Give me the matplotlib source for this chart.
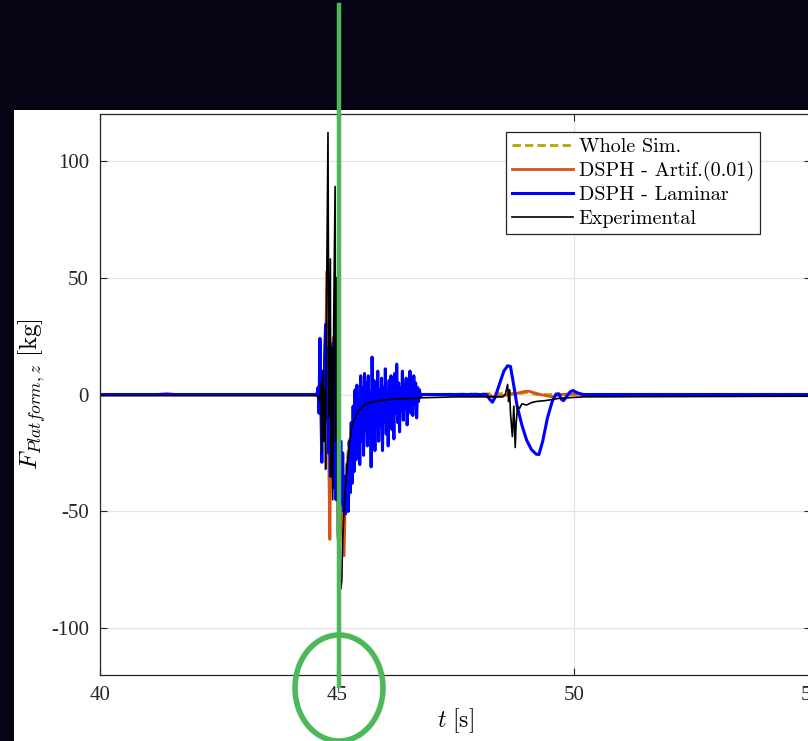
import matplotlib
matplotlib.use('Agg')
import matplotlib.pyplot as plt
from matplotlib.lines import Line2D
from matplotlib.patches import Ellipse, Rectangle

plt.rcParams['mathtext.fontset'] = 'cm'
plt.rcParams['axes.unicode_minus'] = False

# Whole simulation
t_whole = [40.0, 44.60, 44.65, 44.70, 44.75, 44.80, 44.83, 44.87, 44.90, 44.95, 45.00,
           45.05, 45.10, 45.15, 45.20, 45.25, 45.35, 45.45, 45.60, 45.80, 46.00, 46.15,
           46.25, 46.50, 46.60, 47.00, 48.90, 49.05, 49.20, 55.5]
f_whole = [0.0, 0.0, 3.0, -6.0, 12.0, 30.0, -15.0, -40.0, 10.0, -25.0, -35.0,
           -20.0, -50.0, -45.0, -30.0, -20.6, -12.0, -6.0, -3.0, -1.0, 0.0, 5.7,
           0.0, 2.1, 0.0, 0.0, 0.5, 1.0, 0.0, 0.0]

# DSPH - artificial viscosity 0.01
t_artif = [40.0, 41.20, 41.40, 41.60, 44.55, 44.60, 44.64, 44.68, 44.72, 44.76, 44.79,
           44.82, 44.85, 44.88, 44.92, 44.95, 44.98, 45.02, 45.06, 45.10, 45.15,
           45.18, 45.22, 45.28, 45.34, 45.40, 45.46, 45.52, 45.56, 45.62, 45.70,
           45.80, 45.90, 46.00, 46.10, 46.30, 46.50, 46.80, 48.20, 48.30, 48.50,
           48.80, 48.95, 49.05, 49.20, 49.40, 49.55, 49.70, 50.00, 50.30, 55.5]
f_artif = [0.0, 0.0, 0.4, 0.0, 0.0, 1.0, -5.0, 10.0, -15.0, 20.0, 52.8,
           -20.0, -62.0, 5.0, 24.4, -30.0, 10.0, -40.0, -20.0, -55.0, -69.0,
           -40.0, -30.0, -20.0, -32.0, -10.0, -22.0, -5.0, -19.0, -3.0, -8.0,
           1.0, -4.0, 2.0, -2.0, 1.0, -1.0, 0.0, 0.0, -1.0, -0.5,
           0.5, 1.3, 1.4, 0.5, -0.5, -1.0, 0.0, 0.3, 0.0, 0.0]

# DSPH - laminar
t_lam = [40.0, 44.58, 44.60, 44.62, 44.64, 44.66, 44.68, 44.70, 44.72, 44.74, 44.76,
         44.78, 44.80, 44.82, 44.84, 44.86, 44.88, 44.90, 44.92, 44.94, 44.96,
         44.98, 45.00, 45.02, 45.04, 45.06, 45.08, 45.10, 45.12, 45.14, 45.16,
         45.18, 45.20, 45.22, 45.24, 45.26, 45.28, 45.30, 45.32, 45.34, 45.36,
         45.38, 45.40, 45.42, 45.44, 45.46, 45.48, 45.50, 45.52, 45.54, 45.56,
         45.58, 45.60, 45.62, 45.64, 45.66, 45.68, 45.70, 45.72, 45.74, 45.76,
         45.78, 45.80, 45.82, 45.84, 45.86, 45.88, 45.90, 45.92, 45.94, 45.96,
         45.98, 46.00, 46.02, 46.04, 46.06, 46.08, 46.10, 46.12, 46.14, 46.16,
         46.18, 46.20, 46.22, 46.24, 46.26, 46.28, 46.30, 46.32, 46.34, 46.36,
         46.38, 46.40, 46.42, 46.44, 46.46, 46.48, 46.50, 46.52, 46.54, 46.56,
         46.58, 46.60, 46.62, 46.64, 46.66, 46.68, 46.70, 46.72, 46.74, 46.76,
         46.80, 48.15, 48.22, 48.28, 48.34, 48.42, 48.52, 48.60, 48.66, 48.72,
         48.80, 48.90, 49.00, 49.10, 49.20, 49.26, 49.34, 49.44, 49.54, 49.62,
         49.68, 49.74, 49.78, 49.84, 49.92, 49.98, 50.06, 50.18, 55.5]
f_lam = [0.0, 0.0, 3.0, -8.0, 24.0, -5.0, -29.0, 10.0, -15.0, 18.0, 30.0,
         -10.0, 20.0, -25.0, 5.0, -35.0, 8.0, -20.0, 22.0, -40.0, -5.0,
         -45.0, -15.0, -30.0, -8.0, -42.0, -20.0, -47.0, -25.0, -50.0, -35.0,
         -51.0, -48.0, -30.0, -50.0, -20.0, -42.0, -12.0, -38.0, -5.0, -33.0,
         2.0, -28.0, 4.0, -25.0, -3.0, -30.0, 8.0, -20.0, 3.0, -26.0,
         9.0, -15.0, 5.0, -22.0, 8.0, -18.0, 1.0, -31.0, 16.0, -12.0,
         6.0, -24.0, 4.0, -14.0, 10.0, -20.0, 2.0, -13.0, 7.0, -24.0,
         3.0, -12.0, 11.0, -17.0, 1.0, -22.0, 6.0, -8.0, 8.0, -15.0,
         2.0, -19.0, 9.0, -8.0, 13.0, -12.0, 5.0, -16.0, 3.0, -7.0,
         10.0, -11.0, 4.0, -6.0, 7.0, -13.0, 2.0, -5.0, 10.0, -8.0,
         3.0, -9.0, 8.0, -4.0, 5.0, -10.0, 3.0, -3.0, 2.0, -1.0,
         0.0, 0.0, -2.0, -3.3, -1.0, 4.0, 10.0, 12.3, 12.0, 5.0,
         -5.0, -13.0, -19.5, -23.5, -25.5, -25.7, -20.0, -10.0, -3.0, 0.2,
         0.3, -2.2, -2.6, -1.0, 1.2, 1.7, 0.8, 0.0, 0.0]

# Experimental
t_exp = [40.0, 44.55, 44.62, 44.64, 44.66, 44.68, 44.70, 44.72, 44.74, 44.76, 44.78,
         44.81, 44.83, 44.86, 44.87, 44.89, 44.91, 44.93, 44.96, 44.97, 44.99,
         45.01, 45.04, 45.08, 45.10, 45.12, 45.16, 45.22, 45.31, 45.45, 45.60,
         45.80, 46.20, 46.80, 47.50, 48.30, 48.50, 48.55, 48.60, 48.62, 48.64,
         48.66, 48.70, 48.73, 48.76, 48.78, 48.81, 48.85, 48.90, 49.00, 49.10,
         49.20, 49.40, 49.70, 50.20, 55.5]
f_exp = [-0.5, -0.5, -1.0, -3.0, 5.0, -25.0, 10.0, -20.0, 2.0, -32.0, 40.0,
         112.0, -10.0, 58.0, -35.0, 20.0, -45.0, 30.0, 89.0, -20.0, 50.0,
         -60.0, -70.0, -83.0, -80.0, -62.0, -45.0, -29.0, -13.6, -7.0, -4.0,
         -2.8, -2.0, -1.4, -1.0, -1.0, -1.0, 0.0, 4.3, -3.0, 2.0,
         -8.0, -18.0, -5.0, -22.7, -12.0, -5.0, -6.0, -4.0, -4.5, -3.5,
         -3.0, -2.6, -1.6, -1.0, -0.7]

x_ticks = [40, 45, 50, 55]
y_ticks = [-100, -50, 0, 50, 100]

fig = plt.figure(figsize=(8.08, 7.41), dpi=100, facecolor='#050314')
fig.add_artist(Rectangle((14 / 808, 0), 1, 1 - 110 / 741, transform=fig.transFigure,
                         facecolor='white', edgecolor='none', zorder=0))
ax = fig.add_axes([100 / 808, 66 / 741, 711 / 808, 561 / 741])
ax.set_facecolor('white')

ax.plot(t_whole, f_whole, color='#b3a600', lw=2.0, ls=(0, (3, 1.5)), label='Whole Sim.')
ax.plot(t_artif, f_artif, color='#d95319', lw=2.0, label='DSPH - Artif.(0.01)')
ax.plot(t_lam, f_lam, color='#0000ff', lw=2.2, label='DSPH - Laminar')
ax.plot(t_exp, f_exp, color='black', lw=1.2, label='Experimental')

ax.set_xlim(40, 55)
ax.set_ylim(-120, 120)
ax.set_xticks(x_ticks)
ax.set_yticks(y_ticks)
ax.grid(True, color='#e3e3e3', lw=0.9)
ax.set_axisbelow(True)
ax.tick_params(direction='in', length=5, width=0.8, top=True, right=True,
               colors='#262626', labelsize=15, pad=8)
for lab in ax.get_xticklabels() + ax.get_yticklabels():
    lab.set_fontfamily('Liberation Serif')
for sp in ax.spines.values():
    sp.set_color('#262626')
    sp.set_linewidth(0.9)

ax.set_xlabel(r'$t\ \mathrm{[s]}$', fontsize=17, labelpad=1)
ax.set_ylabel(r'$F_{Platform,z}\ \mathrm{[kg]}$', fontsize=18, labelpad=2)

leg = ax.legend(loc='upper right', bbox_to_anchor=(760 / 808, 1 - 132 / 741),
                bbox_transform=fig.transFigure, borderaxespad=0,
                prop={'family': 'cmr10', 'size': 14.5}, handlelength=3.0,
                handletextpad=0.3, labelspacing=0.25, fancybox=False,
                framealpha=1, edgecolor='#262626', borderpad=0.3)
leg.get_frame().set_linewidth(0.9)

# green marker over the figure
green = '#4cb85a'
fig.add_artist(Line2D([339 / 808, 339 / 808], [1 - 5 / 741, 1 - 686 / 741],
                      transform=fig.transFigure, color=green, lw=3.2, zorder=10))
fig.add_artist(Ellipse((339 / 808, 1 - 688 / 741), 88 / 808, 106 / 741,
                       transform=fig.transFigure, fill=False, edgecolor=green,
                       lw=4.0, zorder=10))

fig.savefig('out.png', dpi=100, facecolor=fig.get_facecolor())
